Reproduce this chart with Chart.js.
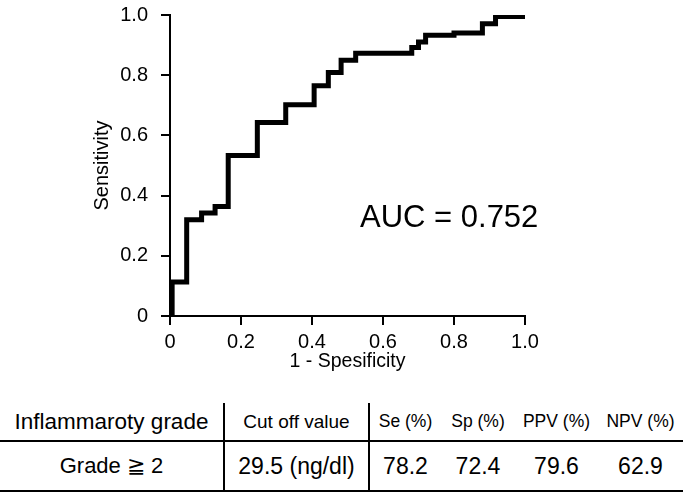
<!DOCTYPE html>
<html>
<head>
<meta charset="utf-8">
<script src="https://cdn.jsdelivr.net/npm/chart.js@4.4.0/dist/chart.umd.min.js"></script>
<style>
    body { margin: 0; background: #fff; font-family: "Liberation Sans", Arial, sans-serif; }
    #wrap { position: relative; width: 683px; height: 499px; overflow: hidden; }
    #chartBox { position: absolute; left: 0; top: -10px; width: 683px; height: 390px; }
    #auc { position: absolute; left: 360px; top: 199px; font-size: 31px; color: #000; white-space: nowrap; }
    #rocTable { position: absolute; left: 0; top: 403px; width: 683px; border-collapse: collapse; table-layout: fixed; color: #000; }
    #rocTable td { padding: 0; text-align: center; white-space: nowrap; }
    #rocTable tr.head td { height: 37px; border-bottom: 2px solid #000; font-size: 17.5px; }
    #rocTable tr.vals td { height: 48px; border-bottom: 2px solid #000; font-size: 23px; }
    #rocTable td.c0, #rocTable td.c1 { border-right: 2px solid #000; }
    #rocTable tr.head td.c1 { font-size: 19px; }
    #rocTable tr.head td.c0 { font-size: 22.5px; }
    #rocTable tr.vals td.c0 { font-size: 22px; }
</style>
</head>
<body>
<div id="wrap">
    <div id="chartBox"><canvas id="rocChart"></canvas></div>
    <div id="auc">AUC = 0.752</div>
    <table id="rocTable"></table>
</div>
<script>
    // ROC step points: end of each horizontal run (1 - specificity) and its sensitivity
    const fprValues = [0.006, 0.047, 0.089, 0.127, 0.164, 0.246, 0.326, 0.406, 0.446, 0.482, 0.523, 0.681, 0.70, 0.72, 0.80, 0.88, 0.917, 1.0];
    const tprValues = [0, 0.113, 0.32, 0.342, 0.364, 0.533, 0.643, 0.702, 0.765, 0.809, 0.85, 0.873, 0.892, 0.91, 0.933, 0.94, 0.971, 0.995];
    const xTickLabels = ['0', '0.2', '0.4', '0.6', '0.8', '1.0'];
    const yTickLabels = ['0', '0.2', '0.4', '0.6', '0.8', '1.0'];

    const tableHeaders = ['Inflammaroty grade', 'Cut off value', 'Se (%)', 'Sp (%)', 'PPV (%)', 'NPV (%)'];
    const tableRow = ['Grade \u2267 2', '29.5 (ng/dl)', '78.2', '72.4', '79.6', '62.9'];
    const colWidths = [224, 145, 72, 74, 83, 85];

    const FONT = '"Liberation Sans", Arial, sans-serif';

    function buildTable() {
        const table = document.getElementById('rocTable');
        let html = '<colgroup>' + colWidths.map(w => '<col style="width:' + w + 'px">').join('') + '</colgroup>';
        html += '<tr class="head">' + tableHeaders.map((t, i) => '<td class="c' + i + '">' + t + '</td>').join('') + '</tr>';
        html += '<tr class="vals">' + tableRow.map((t, i) => '<td class="c' + i + '">' + t + '</td>').join('') + '</tr>';
        table.innerHTML = html;
    }

    function drawChart() {
        const points = fprValues.map((x, i) => ({ x: x, y: tprValues[i] }));
        const ctx = document.getElementById('rocChart').getContext('2d');
        new Chart(ctx, {
            type: 'line',
            data: {
                datasets: [{
                    data: points,
                    stepped: 'after',   // vertical rise first, then horizontal run
                    borderColor: '#000',
                    borderWidth: 5,
                    borderCapStyle: 'butt',
                    borderJoinStyle: 'miter',
                    pointRadius: 0,
                    fill: false
                }]
            },
            options: {
                responsive: true,
                maintainAspectRatio: false,
                animation: false,
                layout: { padding: { top: 4, right: 158, left: 0, bottom: 0 } },
                plugins: {
                    legend: { display: false },
                    tooltip: { enabled: false }
                },
                scales: {
                    x: {
                        type: 'linear',
                        min: 0,
                        max: 1,
                        afterFit: scale => { scale.height = 64; },
                        border: { display: true, color: '#000', width: 2 },
                        grid: { drawOnChartArea: false, drawTicks: true, tickLength: 9, color: '#000', lineWidth: 2 },
                        ticks: {
                            stepSize: 0.2,
                            padding: 5,
                            color: '#000',
                            font: { family: FONT, size: 20 },
                            callback: (v, i) => xTickLabels[i]
                        },
                        title: {
                            display: true,
                            text: '1 - Spesificity',
                            color: '#000',
                            font: { family: FONT, size: 19.5 },
                            padding: { top: 0, bottom: 7 }
                        }
                    },
                    y: {
                        min: 0,
                        max: 1,
                        afterFit: scale => { scale.width = 170; },
                        border: { display: true, color: '#000', width: 2 },
                        grid: { drawOnChartArea: false, drawTicks: true, tickLength: 9, color: '#000', lineWidth: 2 },
                        ticks: {
                            stepSize: 0.2,
                            padding: 13,
                            color: '#000',
                            font: { family: FONT, size: 20 },
                            callback: (v, i) => yTickLabels[i]
                        },
                        title: {
                            display: true,
                            text: 'Sensitivity',
                            color: '#000',
                            font: { family: FONT, size: 20 },
                            padding: { top: 90, bottom: 0 }
                        }
                    }
                }
            }
        });
    }

    buildTable();
    drawChart();
</script>
</body>
</html>
